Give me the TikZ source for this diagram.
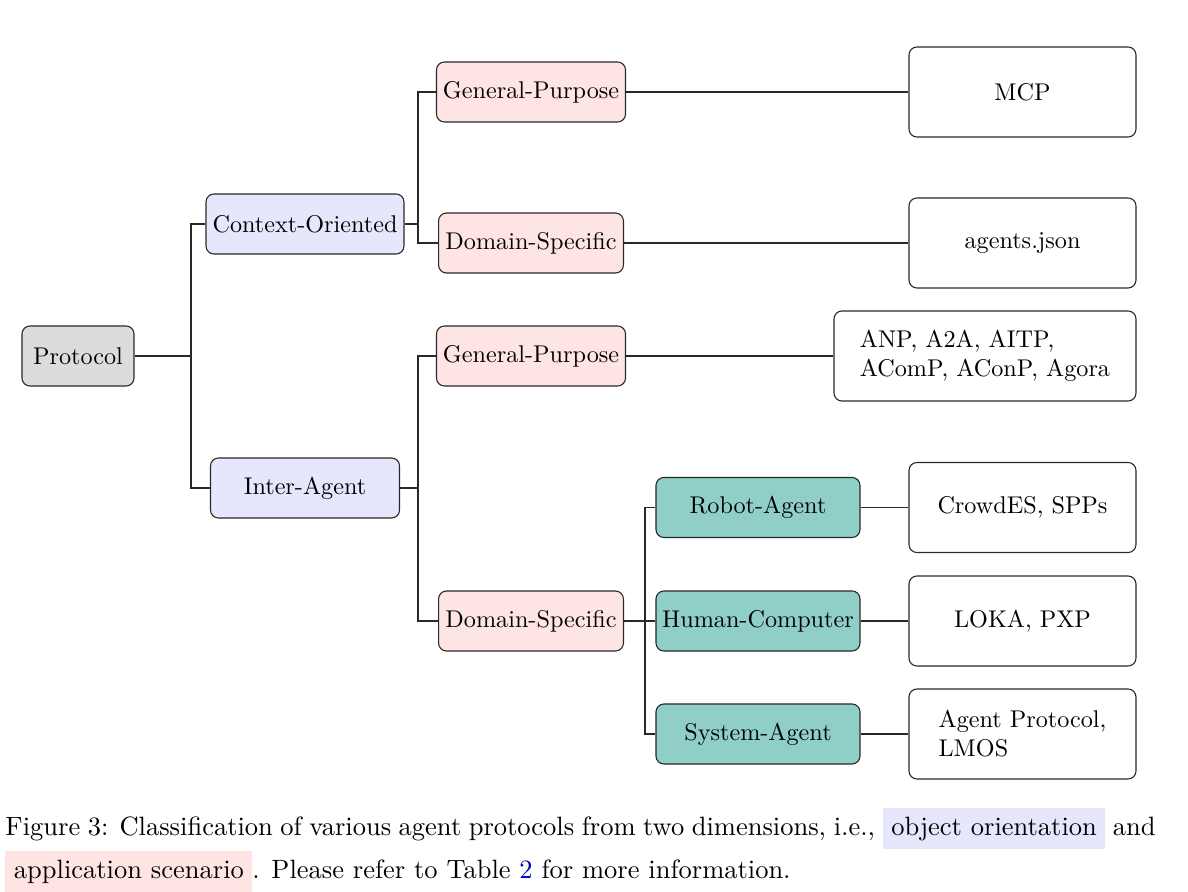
\documentclass[tikz,border=0pt]{standalone}
\usepackage{xcolor}
\definecolor{rootgray}{RGB}{220,220,220}
\definecolor{lav}{RGB}{230,230,252}
\definecolor{pinkbg}{RGB}{255,228,228}
\definecolor{tealbg}{RGB}{143,207,200}
\definecolor{linkblue}{RGB}{0,0,200}
\definecolor{edgegray}{RGB}{40,40,40}
\begin{document}
\begin{tikzpicture}[x=0.4132pt,y=-0.4132pt,
  box/.style={draw=edgegray,line width=0.45pt,rounded corners=3.3pt,inner sep=0pt,minimum height=24.8pt,font=\normalsize},
  rootbox/.style={box,fill=rootgray,minimum width=46.3pt},
  objbox/.style={box,fill=lav},
  appbox/.style={box,fill=pinkbg},
  subbox/.style={box,fill=tealbg,minimum width=84.3pt},
  leafbox/.style={box,fill=white,minimum height=37.2pt,minimum width=93.8pt,align=left},
  conn/.style={draw=edgegray,line width=0.45pt}]
\useasboundingbox (0,0) rectangle (1188,892);
% nodes
\node[rootbox] (P) at (78,356) {Protocol};
\node[objbox,minimum width=81.8pt] (CO) at (305,224) {Context-Oriented};
\node[objbox,minimum width=78.1pt] (IA) at (305,488) {Inter-Agent};
\node[appbox,minimum width=78.1pt] (GP1) at (531,92) {General-Purpose};
\node[appbox,minimum width=76.4pt] (DS1) at (531,243) {Domain-Specific};
\node[appbox,minimum width=78.1pt] (GP2) at (531,356) {General-Purpose};
\node[appbox,minimum width=76.4pt] (DS2) at (531,621) {Domain-Specific};
\node[subbox] (RA) at (758,507.5) {Robot-Agent};
\node[subbox] (HC) at (758,621) {Human-Computer};
\node[subbox] (SA) at (758,734) {System-Agent};
\node[leafbox] (L1) at (1022.5,92) {MCP};
\node[leafbox] (L2) at (1022.5,243) {agents.json};
\node[leafbox,minimum width=124.8pt] (L3) at (985,356) {ANP, A2A, AITP,\\AComP, AConP, Agora};
\node[leafbox] (L4) at (1022.5,507.5) {CrowdES, SPPs};
\node[leafbox] (L5) at (1022.5,621) {LOKA, PXP};
\node[leafbox] (L6) at (1022.5,734) {Agent Protocol,\\LMOS};
% fork coordinates
\coordinate (f1) at (191,0);
\coordinate (f2) at (418,0);
\coordinate (f3) at (645,0);
% connectors
\draw[conn] (P.east) -- (P.east -| f1) |- (CO.west);
\draw[conn] (P.east -| f1) |- (IA.west);
\draw[conn] (CO.east) -- (CO.east -| f2) |- (GP1.west);
\draw[conn] (CO.east -| f2) |- (DS1.west);
\draw[conn] (IA.east) -- (IA.east -| f2) |- (GP2.west);
\draw[conn] (IA.east -| f2) |- (DS2.west);
\draw[conn] (DS2.east) -- (DS2.east -| f3) |- (HC.west);
\draw[conn] (DS2.east -| f3) |- (RA.west);
\draw[conn] (DS2.east -| f3) |- (SA.west);
\draw[conn] (GP1.east) -- (L1.west);
\draw[conn] (DS1.east) -- (L2.west);
\draw[conn] (GP2.east) -- (L3.west);
\draw[conn] (RA.east) -- (L4.west);
\draw[conn] (HC.east) -- (L5.west);
\draw[conn] (SA.east) -- (L6.west);
% caption
\node[anchor=base west,inner sep=0pt,text width=475.2pt,align=justify,font=\fontsize{10.95}{13.6}\selectfont] (cap) at (5,835)
 {\setlength{\fboxsep}{3.5pt}Figure 3: Classification of various agent protocols from two dimensions, i.e., \colorbox{lav}{object orientation} and \colorbox{pinkbg}{application scenario}. Please refer to Table \textcolor{linkblue}{2} for more information.};
\end{tikzpicture}
\end{document}
